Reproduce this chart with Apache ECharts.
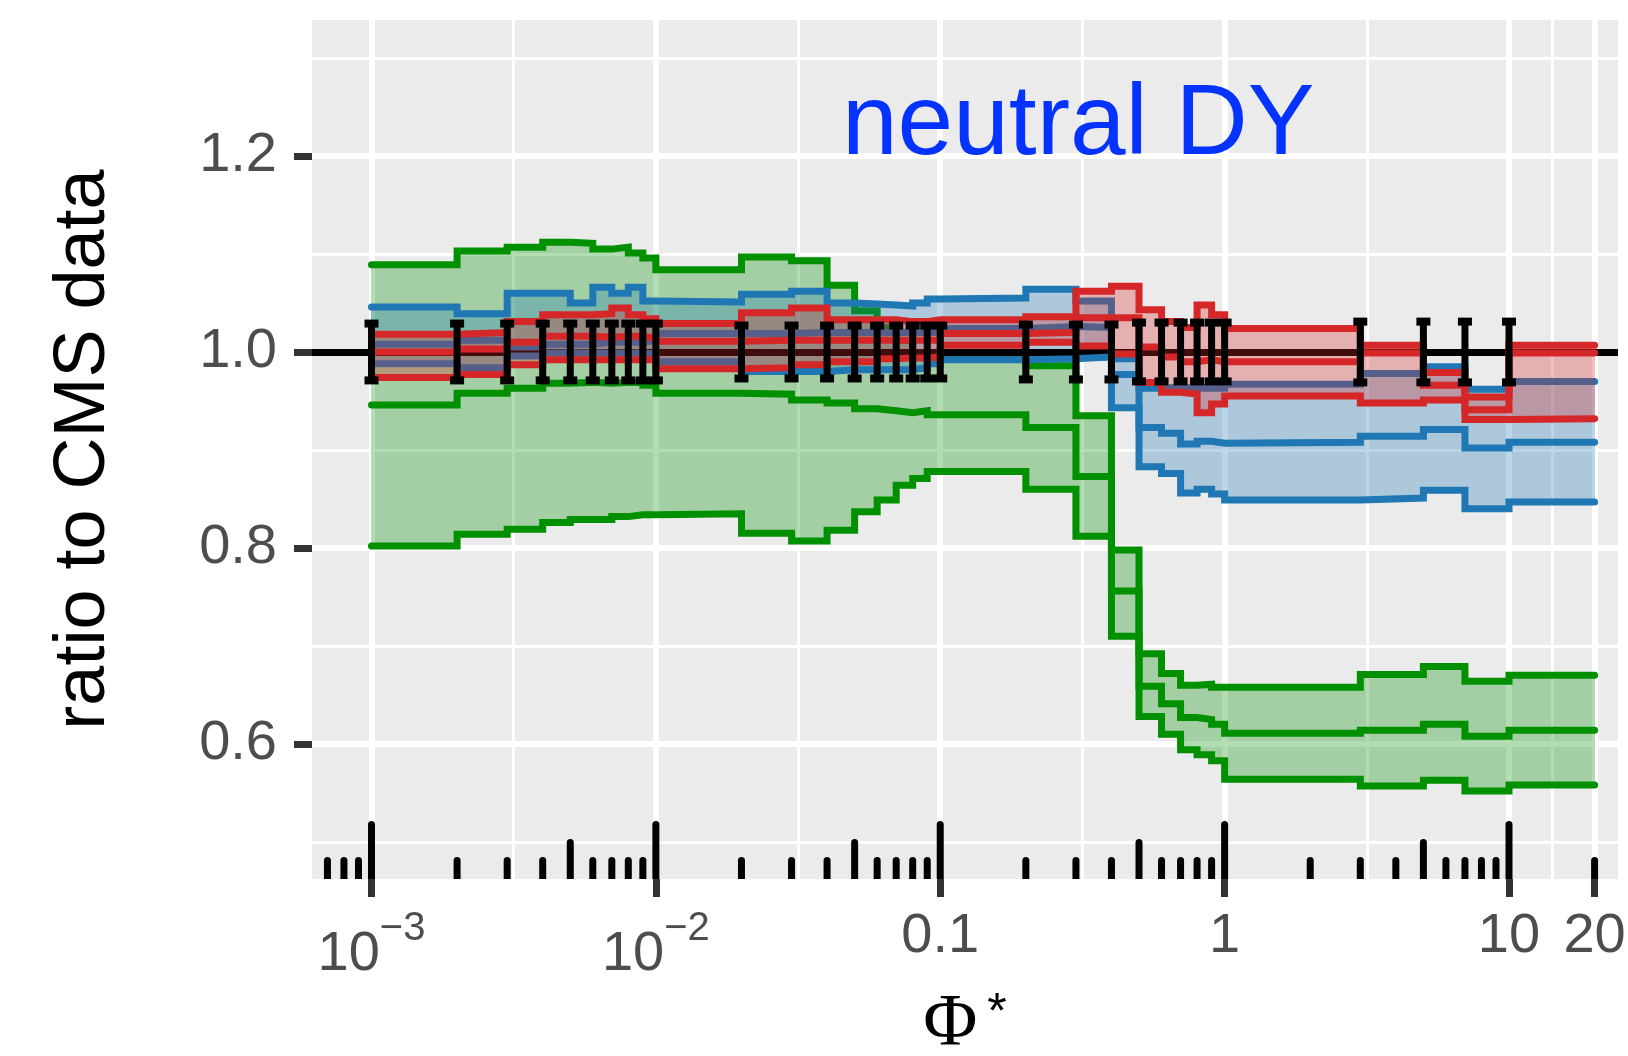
<!DOCTYPE html>
<html>
<head>
<meta charset="utf-8">
<script src="https://cdn.jsdelivr.net/npm/echarts@6/dist/echarts.min.js"></script>
<style>
  html, body { margin: 0; padding: 0; background: #fff; }
  #chart { width: 1628px; height: 1056px; }
</style>
</head>
<body>
<div id="chart"></div>
<script>
// --- Data (bin left edges, last entry closes the last bin) ---
const phiEdges = [0.001, 0.002, 0.003, 0.004, 0.005, 0.006, 0.007, 0.008, 0.009,
  0.01, 0.02, 0.03, 0.04, 0.05, 0.06, 0.07, 0.08, 0.09,
  0.1, 0.2, 0.3, 0.4, 0.5, 0.6, 0.7, 0.8, 0.9,
  1, 3, 5, 7, 10, 20];

const greenHi = [1.089, 1.103, 1.107, 1.112, 1.111, 1.105, 1.107, 1.101, 1.096, 1.084,
  1.097, 1.093, 1.068, 1.042, 1.025, 1.012, 0.997, 0.994, 0.995,
  0.986, 0.935, 0.798, 0.692, 0.672, 0.660, 0.661, 0.658, 0.658,
  0.671, 0.679, 0.664, 0.670];
const greenMid = [0.946, 0.958, 0.963, 0.968, 0.969, 0.968, 0.969, 0.969, 0.966, 0.958,
  0.957, 0.951, 0.948, 0.942, 0.940, 0.938, 0.940, 0.936, 0.936,
  0.923, 0.873, 0.756, 0.659, 0.641, 0.627, 0.625, 0.620, 0.611,
  0.614, 0.620, 0.608, 0.614];
const greenLo = [0.802, 0.814, 0.819, 0.826, 0.829, 0.829, 0.832, 0.834, 0.834, 0.835,
  0.815, 0.807, 0.818, 0.837, 0.849, 0.864, 0.871, 0.878, 0.878,
  0.860, 0.812, 0.710, 0.628, 0.610, 0.594, 0.589, 0.583, 0.564,
  0.557, 0.563, 0.552, 0.558];

const blueHi = [1.046, 1.039, 1.060, 1.060, 1.050, 1.066, 1.060, 1.066, 1.052, 1.051,
  1.059, 1.062, 1.050, 1.049, 1.048, 1.047, 1.050, 1.054, 1.055,
  1.064, 1.052, 0.993, 0.963, 0.964, 0.963, 0.963, 0.963, 0.967,
  0.978, 0.985, 0.962, 0.970];
const blueMid = [1.008, 1.012, 1.005, 1.008, 1.008, 1.010, 1.010, 1.010, 1.012, 1.019,
  1.019, 1.020, 1.020, 1.020, 1.020, 1.020, 1.020, 1.020, 1.024,
  1.026, 1.025, 0.977, 0.923, 0.917, 0.906, 0.909, 0.907, 0.908,
  0.914, 0.921, 0.902, 0.908];
const blueLo = [0.988, 0.984, 0.996, 0.999, 0.999, 0.999, 0.999, 0.999, 0.998, 0.990,
  0.980, 0.980, 0.982, 0.982, 0.982, 0.982, 0.984, 0.988, 0.992,
  0.993, 0.995, 0.943, 0.883, 0.876, 0.856, 0.860, 0.855, 0.849,
  0.851, 0.859, 0.840, 0.847];

const redHi = [1.018, 1.020, 1.031, 1.038, 1.038, 1.039, 1.045, 1.038, 1.034, 1.029,
  1.040, 1.045, 1.033, 1.033, 1.033, 1.031, 1.031, 1.033, 1.033,
  1.036, 1.062, 1.067, 1.043, 1.031, 1.025, 1.048, 1.038, 1.024,
  1.007, 0.979, 0.954, 1.007];
const redMid = [1.000, 1.003, 1.010, 1.016, 1.016, 1.015, 1.016, 1.016, 1.014, 1.011,
  1.012, 1.012, 1.012, 1.012, 1.012, 1.012, 1.012, 1.012, 1.019,
  1.020, 1.035, 1.035, 1.005, 0.995, 0.990, 0.992, 0.990, 0.990,
  0.999, 0.966, 0.941, 0.999];
const redLo = [0.974, 0.977, 0.987, 0.992, 0.992, 0.992, 0.992, 0.992, 0.992, 0.983,
  0.984, 0.987, 0.990, 0.990, 0.993, 0.994, 0.994, 0.995, 1.007,
  1.010, 1.006, 0.998, 0.969, 0.959, 0.957, 0.938, 0.947, 0.955,
  0.948, 0.951, 0.931, 0.932];

// CMS data points sit at the left edge of each bin, ratio 1 +- error
const dataErr = [0.029, 0.029, 0.029, 0.029, 0.029, 0.029, 0.029, 0.029, 0.029, 0.029,
  0.027, 0.027, 0.027, 0.027, 0.027, 0.027, 0.027, 0.027, 0.027,
  0.028, 0.028, 0.028, 0.030, 0.030, 0.030, 0.030, 0.030, 0.030,
  0.031, 0.031, 0.031, 0.031];

// --- Axes ---
const xTickPhi = [0.001, 0.01, 0.1, 1, 10, 20];
const xTickText = ['{b|10}{s|\u22123}', '{b|10}{s|\u22122}', '0.1', '1', '10', '20'];
const yTickValues = [0.6, 0.8, 1.0, 1.2];
const yMinorValues = [0.5, 0.7, 0.9, 1.1, 1.3];
const logTickMultipliers = [1, 2, 3, 4, 5, 6, 7, 8, 9];
const logTickDecades = [-4, -3, -2, -1, 0, 1];

const X_MIN = -3.2092, X_MAX = 1.3833;
const Y_MIN = 0.4622, Y_MAX = 1.3388;

const lg = v => Math.log10(v);
const xTicks = xTickPhi.map(lg);
const xMinor = xTicks.slice(1).map((v, i) => (v + xTicks[i]) / 2);

const logTicks = [];
logTickDecades.forEach(d => {
  logTickMultipliers.forEach(m => {
    const v = d + lg(m);
    if (v > X_MIN && v < X_MAX) logTicks.push([v, m === 1 ? 0 : (m === 5 ? 1 : 2)]);
  });
});

const COLORS = {
  green: { line: '#009000', fill: 'rgba(0,144,0,0.3)' },
  blue: { line: '#1F77B4', fill: 'rgba(31,119,180,0.3)' },
  red: { line: '#D62728', fill: 'rgba(214,39,40,0.3)' },
};
const LW = 7;

function stepPoints(vals) {
  return phiEdges.map((x, i) => [lg(x), vals[Math.min(i, vals.length - 1)]]);
}

function ribbonSeries(lo, hi, color, z) {
  const data = lo.map((l, i) => [lg(phiEdges[i]), lg(phiEdges[i + 1]), l, hi[i]]);
  return {
    type: 'custom',
    z,
    silent: true,
    clip: true,
    encode: { x: [0, 1], y: [2, 3] },
    data,
    renderItem: (params, api) => {
      const a = api.coord([api.value(0), api.value(3)]);
      const b = api.coord([api.value(1), api.value(2)]);
      const x0 = Math.round(a[0]), x1 = Math.round(b[0]);
      const y0 = Math.round(a[1]), y1 = Math.round(b[1]);
      return {
        type: 'rect',
        shape: { x: x0, y: y0, width: x1 - x0, height: y1 - y0 },
        style: { fill: color },
      };
    },
  };
}

function stepLine(vals, color, z) {
  return {
    type: 'line',
    z,
    silent: true,
    step: 'end',
    symbol: 'none',
    showSymbol: false,
    data: stepPoints(vals),
    lineStyle: { color, width: LW, cap: 'round', join: 'miter' },
    emphasis: { disabled: true },
  };
}

function band(name, lo, mid, hi, z) {
  const c = COLORS[name];
  return [
    ribbonSeries(lo, hi, c.fill, z),
    stepLine(hi, c.line, z + 1),
    stepLine(mid, c.line, z + 1),
    stepLine(lo, c.line, z + 1),
  ];
}

const errorBarSeries = {
  type: 'custom',
  z: 20,
  silent: true,
  encode: { x: 0, y: 1 },
  data: dataErr.map((e, i) => [lg(phiEdges[i]), 1, e]),
  renderItem: (params, api) => {
    const x = api.value(0), e = api.value(2);
    const top = api.coord([x, 1 + e]);
    const bot = api.coord([x, 1 - e]);
    const cw = 7;
    const capStyle = { stroke: '#000', lineWidth: 8 };
    return {
      type: 'group',
      children: [
        { type: 'line', shape: { x1: top[0], y1: top[1], x2: bot[0], y2: bot[1] },
          style: { stroke: '#000', lineWidth: LW } },
        { type: 'line', shape: { x1: top[0] - cw, y1: top[1], x2: top[0] + cw, y2: top[1] }, style: capStyle },
        { type: 'line', shape: { x1: bot[0] - cw, y1: bot[1], x2: bot[0] + cw, y2: bot[1] }, style: capStyle },
      ],
    };
  },
  markLine: {
    silent: true,
    symbol: 'none',
    label: { show: false },
    lineStyle: { color: '#000', width: LW, type: 'solid' },
    data: [{ yAxis: 1 }],
    animation: false,
  },
};

const logTickSeries = {
  type: 'custom',
  z: 21,
  silent: true,
  clip: true,
  encode: { x: 0 },
  data: logTicks,
  renderItem: (params, api) => {
    const base = api.coord([api.value(0), Y_MIN]);
    const len = [58, 40, 22][api.value(1)];
    return {
      type: 'line',
      shape: { x1: base[0], y1: base[1] + 5, x2: base[0], y2: base[1] - len + 3.5 },
      style: { stroke: '#000', lineWidth: LW, lineCap: 'round' },
    };
  },
};

const chart = echarts.init(document.getElementById('chart'), null, { renderer: 'canvas' });

const tickText = { color: '#4D4D4D', fontFamily: 'Liberation Sans', fontSize: 56 };

chart.setOption({
  animation: false,
  backgroundColor: '#fff',
  title: {
    text: 'neutral DY',
    left: 842,
    top: 76,
    padding: 0,
    textStyle: { color: '#0433FF', fontSize: 100, fontWeight: 'normal', fontFamily: 'Liberation Sans' },
  },
  grid: {
    left: 312, top: 20, width: 1306, height: 859,
    show: true, backgroundColor: '#EBEBEB', borderWidth: 0,
    containLabel: false, outerBoundsMode: 'none',
  },
  xAxis: [
    {
      type: 'value', min: X_MIN, max: X_MAX,
      name: '{p|\u03A6}{s|*}',
      nameLocation: 'middle',
      nameGap: 110,
      nameTextStyle: {
        fontFamily: 'Liberation Serif', fontSize: 74, color: '#000',
        rich: {
          p: { fontFamily: 'Liberation Serif', fontSize: 74, color: '#000', lineHeight: 74 },
          s: { fontFamily: 'Liberation Sans', fontSize: 50, color: '#000', verticalAlign: 'top', padding: [0, 0, 0, 10] },
        },
      },
      axisLine: { show: false, onZero: false },
      axisTick: { show: true, length: 18, customValues: xTicks, lineStyle: { color: '#333333', width: LW } },
      axisLabel: {
        customValues: xTicks,
        margin: 30,
        hideOverlap: false,
        ...tickText,
        lineHeight: 56,
        formatter: v => {
          let best = 0;
          xTicks.forEach((t, i) => { if (Math.abs(t - v) < Math.abs(xTicks[best] - v)) best = i; });
          return xTickText[best];
        },
        rich: {
          b: { ...tickText, lineHeight: 74, verticalAlign: 'bottom' },
          s: { ...tickText, fontSize: 40, lineHeight: 40, verticalAlign: 'top' },
        },
      },
      splitLine: { show: true, lineStyle: { color: '#fff', width: 6 } },
    },
    {
      type: 'value', min: X_MIN, max: X_MAX,
      axisLine: { show: false, onZero: false },
      axisTick: { show: false, customValues: xMinor },
      axisLabel: { show: false, customValues: xMinor },
      splitLine: { show: true, lineStyle: { color: '#fff', width: 3 } },
    },
  ],
  yAxis: [
    {
      type: 'value', min: Y_MIN, max: Y_MAX,
      name: 'ratio to CMS data',
      nameLocation: 'middle',
      nameGap: 192,
      nameRotate: 90,
      nameTextStyle: { color: '#000', fontSize: 72, fontFamily: 'Liberation Sans' },
      axisLine: { show: false, onZero: false },
      axisTick: { show: true, length: 18, customValues: yTickValues, lineStyle: { color: '#333333', width: LW } },
      axisLabel: {
        customValues: yTickValues, margin: 35, ...tickText,
        formatter: v => v.toFixed(1),
      },
      splitLine: { show: true, lineStyle: { color: '#fff', width: 6 } },
    },
    {
      type: 'value', min: Y_MIN, max: Y_MAX,
      axisLine: { show: false, onZero: false },
      axisTick: { show: false, customValues: yMinorValues },
      axisLabel: { show: false, customValues: yMinorValues },
      splitLine: { show: true, lineStyle: { color: '#fff', width: 3 } },
    },
  ],
  series: [
    ...band('green', greenLo, greenMid, greenHi, 2),
    ...band('blue', blueLo, blueMid, blueHi, 4),
    ...band('red', redLo, redMid, redHi, 6),
    errorBarSeries,
    logTickSeries,
  ],
});
</script>
</body>
</html>
